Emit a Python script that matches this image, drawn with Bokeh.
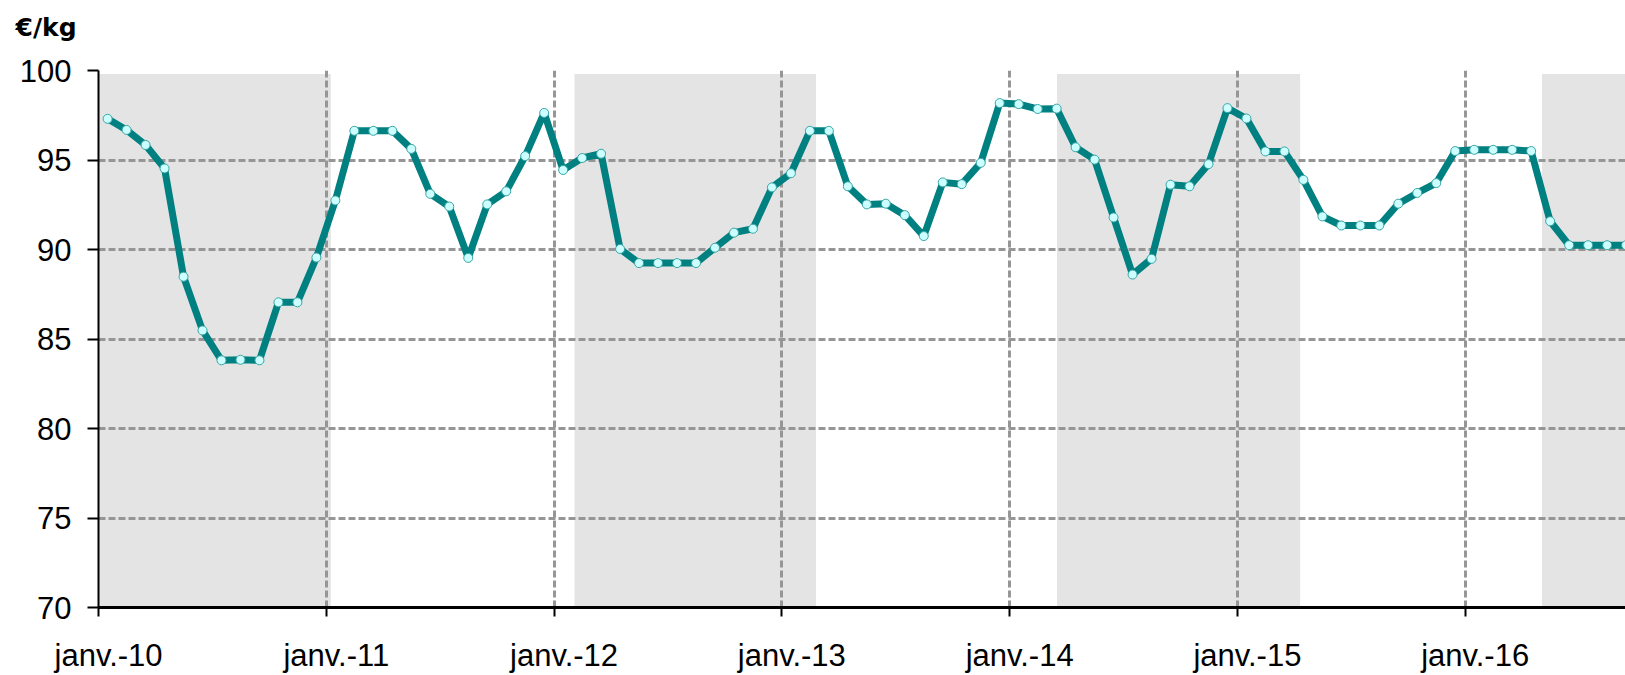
from bokeh.plotting import figure
from bokeh.models import ColumnDataSource, FixedTicker, Range1d
from bokeh.embed import file_html
from bokeh.resources import INLINE

# ---------------- data ----------------
unit_label = "€/kg"

# monthly prices, janv. 2010 -> sept. 2016
prices = [
    97.30, 96.68, 95.84, 94.53, 88.48, 85.48, 83.81, 83.84, 83.81, 87.05, 87.05, 89.55,  # 2010
    92.74, 96.63, 96.63, 96.63, 95.62, 93.11, 92.40, 89.53, 92.52, 93.25, 95.22, 97.63,  # 2011
    94.44, 95.11, 95.35, 90.03, 89.24, 89.24, 89.24, 89.24, 90.10, 90.94, 91.16, 93.47,  # 2012
    94.26, 96.63, 96.63, 93.53, 92.52, 92.56, 91.92, 90.75, 93.75, 93.65, 94.84, 98.18,  # 2013
    98.12, 97.85, 97.87, 95.71, 95.02, 91.79, 88.60, 89.48, 93.62, 93.53, 94.77, 97.90,  # 2014
    97.32, 95.48, 95.48, 93.89, 91.85, 91.34, 91.34, 91.34, 92.56, 93.16, 93.71, 95.50,  # 2015
    95.57, 95.57, 95.57, 95.50, 91.58, 90.24, 90.24, 90.24, 90.24,                       # 2016
]
month_index = list(range(len(prices)))          # months since janv. 2010
mid_month = 0.48                                 # points sit mid-month

year_ticks = [0, 12, 24, 36, 48, 60, 72]         # months since janv. 2010
year_labels = ["janv.-10", "janv.-11", "janv.-12", "janv.-13",
               "janv.-14", "janv.-15", "janv.-16"]
y_ticks = [70, 75, 80, 85, 90, 95, 100]

# shaded periods (months since janv. 2010)
band_start = [0.0, 25.08, 50.50, 76.05]
band_end = [12.24, 37.80, 63.31, 84.0]
band_bottom = 70
band_top = 99.8

label_shift = 0.53   # labels sit slightly right of their tick

# ---------------- figure ----------------
p = figure(width=1625, height=675, output_backend="svg", toolbar_location=None,
           x_range=Range1d(0, 80.45), y_range=Range1d(70, 100),
           min_border_left=98, min_border_right=0, min_border_top=70,
           min_border_bottom=57)
p.outline_line_color = None
p.background_fill_color = "white"
p.border_fill_color = "white"

# unit title (empty second line lifts it towards the top of the border)
p.title.text = unit_label + "\n"
p.title.align = "left"
p.title.vertical_align = "bottom"
p.title.offset = -83
p.title.standoff = 0
p.title.text_font = "DejaVu Sans"
p.title.text_font_style = "bold"
p.title.text_font_size = "25px"
p.title.text_color = "black"

bands = ColumnDataSource(dict(left=band_start, right=band_end,
                              bottom=[band_bottom] * len(band_start),
                              top=[band_top] * len(band_start)))
p.quad(left="left", right="right", bottom="bottom", top="top", source=bands,
       fill_color="#E4E4E4", line_color=None, level="image")

src = ColumnDataSource(dict(x=[m + mid_month for m in month_index], y=prices))
p.line("x", "y", source=src, line_color="#008080", line_width=7, line_join="round")
p.scatter("x", "y", source=src, marker="circle", size=9,
          fill_color="#CCFFFF", line_color="#3AA5A5", line_width=1)

# grid
p.xgrid.ticker = FixedTicker(ticks=year_ticks[1:])
p.ygrid.ticker = FixedTicker(ticks=y_ticks[1:])
for g in (p.xgrid, p.ygrid):
    g.grid_line_color = "#969696"
    g.grid_line_width = 3
    g.grid_line_dash = "7 3"

# x axis: tick marks at janv. (minor), labels slightly to the right (major)
label_pos = [t + label_shift for t in year_ticks]
xa = p.xaxis[0]
xa.ticker = FixedTicker(ticks=label_pos, minor_ticks=year_ticks)
xa.major_label_overrides = {pos: lab for pos, lab in zip(label_pos, year_labels)}
xa.axis_line_color = "black"
xa.axis_line_width = 3
xa.major_tick_out = 0
xa.major_tick_in = 0
xa.minor_tick_out = 9
xa.minor_tick_in = 0
xa.minor_tick_line_width = 2
xa.minor_tick_line_color = "black"
xa.major_label_text_font = "Liberation Sans"
xa.major_label_text_font_size = "31px"
xa.major_label_text_color = "black"
xa.major_label_standoff = 21

# y axis
ya = p.yaxis[0]
ya.ticker = FixedTicker(ticks=y_ticks)
ya.axis_line_color = "black"
ya.axis_line_width = 2
ya.major_tick_out = 11
ya.major_tick_in = 0
ya.major_tick_line_width = 2
ya.major_tick_line_color = "black"
ya.minor_tick_out = 0
ya.minor_tick_in = 0
ya.major_label_text_font = "Liberation Sans"
ya.major_label_text_font_size = "31px"
ya.major_label_text_color = "black"
ya.major_label_standoff = 16

open("out.html", "w").write(file_html(p, INLINE))
